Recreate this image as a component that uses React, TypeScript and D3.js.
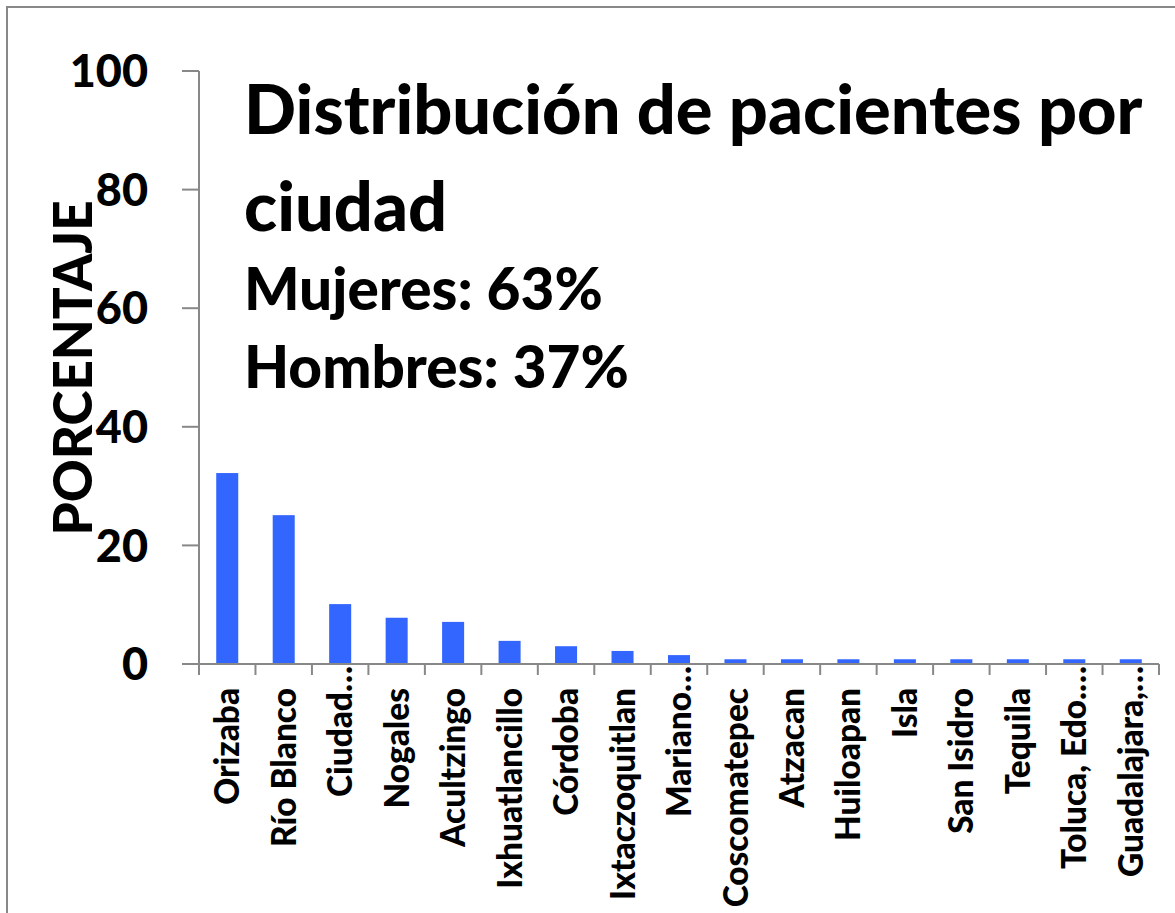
import { scaleBand, scaleLinear } from "d3";

// city names as shown on the x axis (long ones are cut with an ellipsis)
const cities = [
  "Orizaba",
  "Río Blanco",
  "Ciudad…",
  "Nogales",
  "Acultzingo",
  "Ixhuatlancillo",
  "Córdoba",
  "Ixtaczoquitlan",
  "Mariano…",
  "Coscomatepec",
  "Atzacan",
  "Huiloapan",
  "Isla",
  "San Isidro",
  "Tequila",
  "Toluca, Edo.…",
  "Guadalajara,…",
];

// percentage of patients per city
const percents = [32.2, 25.1, 10.1, 7.8, 7.1, 3.9, 3.0, 2.2, 1.5, 0.8, 0.8, 0.8, 0.8, 0.8, 0.8, 0.8, 0.8];

const yTicks = [0, 20, 40, 60, 80, 100];

const titleLines = ["Distribución de pacientes por", "ciudad"];
const subLines = ["Mujeres: 63%", "Hombres: 37%"];

const W = 1175;
const H = 913;
const FONT = "Lato, 'Open Sans', sans-serif";
const GREY = "#888888";
const BLUE = "#3366ff";

export default function App() {
  const x = scaleBand<string>()
    .domain(cities)
    .range([199, 1159])
    .paddingInner(0.61)
    .paddingOuter(0.305);

  const y = scaleLinear().domain([0, 100]).range([664, 71]);

  const step = x.step();
  const x0 = x.range()[0];

  return (
    <svg
      width={W}
      height={H}
      style={{ position: "absolute", left: 0, top: 0, display: "block", background: "#fff" }}
      fontFamily={FONT}
      fontWeight={900}
    >
      {/* outer frame - runs off the right / bottom edge */}
      <rect x={7} y={7} width={1300} height={1100} fill="none" stroke={GREY} strokeWidth={2} />

      {/* bars */}
      {cities.map((c, i) => (
        <rect
          key={c}
          x={x(c)}
          y={y(percents[i])}
          width={x.bandwidth()}
          height={y(0) - y(percents[i])}
          fill={BLUE}
        />
      ))}

      {/* y axis */}
      <line x1={x0} x2={x0} y1={y(100)} y2={y(0)} stroke={GREY} strokeWidth={2} />
      {yTicks.map((t) => (
        <g key={t}>
          <line x1={182} x2={x0} y1={y(t)} y2={y(t)} stroke={GREY} strokeWidth={2} />
          <text x={148} y={y(t)} dy="0.36em" textAnchor="end" fontSize={45} fill="#000">
            {t}
          </text>
        </g>
      ))}

      {/* x axis */}
      <line x1={182} x2={x.range()[1]} y1={y(0)} y2={y(0)} stroke={GREY} strokeWidth={2} />
      {cities.concat([""]).map((c, i) => (
        <line
          key={"t" + i}
          x1={x0 + i * step}
          x2={x0 + i * step}
          y1={y(0)}
          y2={y(0) + 11}
          stroke={GREY}
          strokeWidth={2}
        />
      ))}
      {cities.map((c) => {
        const cx = (x(c) as number) + x.bandwidth() / 2;
        const top = c.endsWith("…") ? y(0) + 2 : 688; // cut labels run up to the axis
        return (
          <text
            key={"l" + c}
            transform={`translate(${cx},${top}) rotate(-90)`}
            dy="0.36em"
            textAnchor="end"
            fontSize={33.4}
            fill="#000"
          >
            {c}
          </text>
        );
      })}

      {/* y title */}
      <text
        transform={`translate(92,368) rotate(-90)`}
        textAnchor="middle"
        fontSize={53}
        fill="#000"
      >
        PORCENTAJE
      </text>

      {/* title block inside plot */}
      {titleLines.map((t, i) => (
        <text key={t} x={244} y={134 + i * 97} fontSize={68.5} fill="#000">
          {t}
        </text>
      ))}
      {subLines.map((t, i) => (
        <text key={t} x={244} y={310 + i * 78} fontSize={58.5} fill="#000">
          {t}
        </text>
      ))}
    </svg>
  );
}
